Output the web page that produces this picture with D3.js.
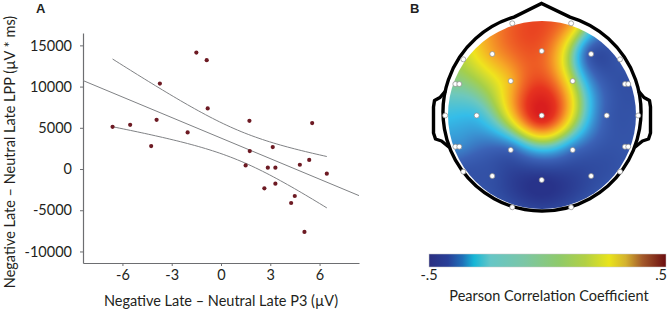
<!DOCTYPE html>
<html><head><meta charset="utf-8">
<script src="https://cdn.jsdelivr.net/npm/d3@7"></script>
<style>
html,body{margin:0;padding:0;background:#fff;}
svg{display:block;font-family:Lato,'Open Sans',sans-serif;}
</style></head><body>
<svg id="chart" width="670" height="315"></svg>
<script>
// ---------- Panel A data ----------
const p3Diff  = [-6.6,-5.53,-3.92,-4.25,-3.72,-2.03,-1.5,-0.87,-0.81,1.73,1.75,3.15,5.55,5.37,1.5,2.85,3.31,4.8,6.44,2.64,3.31,4.49,4.27,5.08];
const lppDiff = [5120,5360,5970,2780,10370,4440,14120,13200,7350,5850,2180,2660,5570,1100,440,160,160,520,-570,-2340,-1780,-3270,-4120,-7630];
const xTicks = [-6,-3,0,3,6];
const yTicks = [-10000,-5000,0,5000,10000,15000];
const xDomain = [-8.4, 8.4];
const yDomain = [-11400, 16500];
const tCrit = 2.074; // 95% CI, df = 22

// ---------- Panel B data ----------
const electrodeNames = ["Fp1","Fp2","F7","F3","Fz","F4","F8","FT9","FT7","FC3","FC4","FT8","FT10","T7","C3","Cz","C4","T8","TP9","TP7","CP3","CP4","TP8","TP10","P7","P3","Pz","P4","P8","O1","O2"];
const electrodeX = [-0.305,0.305,-0.812,-0.512,0,0.512,0.812,-0.895,-0.854,-0.321,0.321,0.863,0.897,-1.0,-0.674,0,0.674,1.0,-0.895,-0.854,-0.321,0.321,0.863,0.897,-0.812,-0.512,0,0.512,0.812,-0.305,0.305];
const electrodeY = [-0.955,-0.955,-0.582,-0.637,-0.668,-0.637,-0.582,-0.326,-0.326,-0.357,-0.357,-0.326,-0.326,0,0,0,0,0,0.323,0.323,0.357,0.357,0.323,0.323,0.582,0.627,0.668,0.627,0.582,0.951,0.951];
const electrodeR = [0.32,0.2,0.03,0.2,0.32,-0.38,-0.38,-0.06,-0.06,0.18,0.02,-0.4,-0.4,-0.17,-0.17,0.5,-0.35,-0.38,-0.26,-0.26,-0.33,-0.3,-0.38,-0.38,-0.38,-0.4,-0.5,-0.42,-0.38,-0.4,-0.4];
const mapStops  = [-0.5,-0.42,-0.33,-0.25,-0.18,-0.1,0,0.1,0.2,0.3,0.4,0.5];
const mapColors = ["#28338a","#2f4a9f","#3b62b6","#3a8fd0","#34bde9","#6ec8bc","#a5cf4a","#efe41e","#f6a826","#f06926","#e6331f","#d91e1e"];
const barStops  = [0,0.08,0.14,0.19,0.26,0.4,0.55,0.66,0.76,0.83,0.9,1];
const barColors = ["#2b2f80","#283f98","#1f6fb8","#17b6d6","#66c6c6","#7bc6a6","#8fca6a","#b2d044","#e9e41b","#d4b22e","#a45a2a","#6b0d10"];
const barTickLabels = ["-.5", ".5"];

const textColor = "#231f20";
const svg = d3.select("#chart");

// ================= Panel A =================
const x = d3.scaleLinear().domain(xDomain).range([83, 359]);
const y = d3.scaleLinear().domain(yDomain).range([263, 33]);
const axisColor = "#6d6e71";
const fs = 14.5;

const gx = svg.append("g").attr("transform","translate(0,263)")
  .call(d3.axisBottom(x).tickValues(xTicks).tickSize(3).tickSizeOuter(0).tickPadding(4).tickFormat(d=>String(d)));
const gy = svg.append("g").attr("transform","translate(83,0)")
  .call(d3.axisLeft(y).tickValues(yTicks).tickSize(3).tickSizeOuter(0).tickPadding(8).tickFormat(d=>String(d)));
[gx,gy].forEach(g=>{
  g.select(".domain").attr("stroke",axisColor).attr("stroke-width",1.2);
  g.selectAll(".tick line").attr("stroke",axisColor);
  g.selectAll(".tick text").attr("fill",textColor).style("font-size",fs+"px").style("font-family","Lato,'Open Sans',sans-serif");
});

// regression + CI
const n = p3Diff.length;
const mx = d3.mean(p3Diff), my = d3.mean(lppDiff);
let sxx=0, sxy=0;
for (let i=0;i<n;i++){ sxx += (p3Diff[i]-mx)**2; sxy += (p3Diff[i]-mx)*(lppDiff[i]-my); }
const slope = sxy/sxx, intercept = my - slope*mx;
let sse=0;
for (let i=0;i<n;i++){ sse += (lppDiff[i]-(intercept+slope*p3Diff[i]))**2; }
const se = Math.sqrt(sse/(n-2));
const fit = v => intercept + slope*v;
const hw = v => tCrit*se*Math.sqrt(1/n + (v-mx)**2/sxx);

const lineGen = d3.line().x(d=>x(d[0])).y(d=>y(d[1]));
const lineColor = "#808285";
svg.append("path").attr("d", lineGen(xDomain.map(v=>[v,fit(v)])))
  .attr("fill","none").attr("stroke",lineColor).attr("stroke-width",1);
const xs = d3.range(0,61).map(i=> d3.min(p3Diff) + i*(d3.max(p3Diff)-d3.min(p3Diff))/60);
svg.append("path").attr("d", lineGen(xs.map(v=>[v,fit(v)+hw(v)])))
  .attr("fill","none").attr("stroke",lineColor).attr("stroke-width",1);
svg.append("path").attr("d", lineGen(xs.map(v=>[v,fit(v)-hw(v)])))
  .attr("fill","none").attr("stroke",lineColor).attr("stroke-width",1);

svg.append("g").selectAll("circle").data(p3Diff.map((v,i)=>[v,lppDiff[i]])).join("circle")
  .attr("cx",d=>x(d[0])).attr("cy",d=>y(d[1])).attr("r",2.1).attr("fill","#6d1a23");

svg.append("text").attr("transform","translate(15,152) rotate(-90)").attr("text-anchor","middle")
  .attr("fill",textColor).style("font-size",fs+"px").text("Negative Late \u2013 Neutral Late LPP (\u00b5V * ms)");
svg.append("text").attr("x",221).attr("y",306).attr("text-anchor","middle")
  .attr("fill",textColor).style("font-size",fs+"px").text("Negative Late \u2013 Neutral Late P3 (\u00b5V)");
svg.append("text").attr("x",36).attr("y",13).attr("fill",textColor)
  .style("font-family","'Liberation Sans',Arial,sans-serif").style("font-weight","bold").style("font-size","13px").text("A");

// ================= Panel B =================
const ecx = 541.7, ecy = 115.5, eR = 96.5;
const ex = d3.scaleLinear().domain([-1,1]).range([ecx-eR, ecx+eR]);
const ey = d3.scaleLinear().domain([-1,1]).range([ecy-eR, ecy+eR]);

// biharmonic spline interpolation (v4)
const m = electrodeX.length;
const g = r => r>0 ? r*r*(Math.log(r)-1) : 0;
const A = [];
for (let i=0;i<m;i++){ A.push([]); for (let j=0;j<m;j++){ A[i].push(g(Math.hypot(electrodeX[i]-electrodeX[j], electrodeY[i]-electrodeY[j]))); } A[i].push(electrodeR[i]); }
for (let c=0;c<m;c++){
  let p=c; for (let r=c+1;r<m;r++) if (Math.abs(A[r][c])>Math.abs(A[p][c])) p=r;
  [A[c],A[p]]=[A[p],A[c]];
  for (let r=0;r<m;r++){ if (r===c) continue; const f=A[r][c]/A[c][c]; for (let k=c;k<=m;k++) A[r][k]-=f*A[c][k]; }
}
const w = A.map((row,i)=>row[m]/row[i]);
const interp = (u,v)=>{ let s=0; for (let k=0;k<m;k++) s+=w[k]*g(Math.hypot(u-electrodeX[k], v-electrodeY[k])); return s; };

const mapColor = d3.scaleLinear().domain(mapStops).range(mapColors).clamp(true);
const clipCx = 542, clipCy = 115, clipR = 94;
const cx0 = clipCx-clipR-1, cy0 = clipCy-clipR-1, W = 2*clipR+2;
const canvas = document.createElement("canvas");
canvas.width = W; canvas.height = W;
const ctx = canvas.getContext("2d");
const img = ctx.createImageData(W,W);
for (let j=0;j<W;j++){
  for (let i=0;i<W;i++){
    const px = cx0+i+0.5, py = cy0+j+0.5;
    const val = Math.max(-0.5, Math.min(0.5, interp(ex.invert(px), ey.invert(py))));
    const c = d3.rgb(mapColor(val));
    const o = (j*W+i)*4;
    img.data[o]=c.r; img.data[o+1]=c.g; img.data[o+2]=c.b; img.data[o+3]=255;
  }
}
ctx.putImageData(img,0,0);
const defs = svg.append("defs");
defs.append("clipPath").attr("id","headClip").append("circle").attr("cx",clipCx).attr("cy",clipCy).attr("r",clipR);
svg.append("image").attr("href",canvas.toDataURL()).attr("x",cx0).attr("y",cy0).attr("width",W).attr("height",W)
  .attr("clip-path","url(#headClip)");

// head outline
const hcx = 542, hcy = 112, hR = 99;
const noseHalf = Math.asin(28/hR);
const hp = d3.path();
const a0 = -Math.PI/2 + noseHalf, a1 = -Math.PI/2 - noseHalf + 2*Math.PI;
hp.moveTo(hcx + hR*Math.cos(a0), hcy + hR*Math.sin(a0));
hp.arc(hcx,hcy,hR,a0,a1,false);
hp.lineTo(541.5, 3.5);
hp.closePath();
svg.append("path").attr("d",hp.toString()).attr("fill","none").attr("stroke","#000").attr("stroke-width",3.4).attr("stroke-linejoin","miter");
const earL = [[445.5,91],[440,97.5],[434.5,100.5],[433.5,107],[433.5,133],[435.5,139],[441.5,141],[449.5,147.5]];
const earLine = d3.line();
svg.append("path").attr("d",earLine(earL)).attr("fill","none").attr("stroke","#000").attr("stroke-width",3.4).attr("stroke-linejoin","round");
svg.append("path").attr("d",earLine(earL.map(p=>[2*hcx-p[0],p[1]]))).attr("fill","none").attr("stroke","#000").attr("stroke-width",3.4).attr("stroke-linejoin","round");

// electrodes
svg.append("g").selectAll("circle").data(electrodeNames).join("circle")
  .attr("cx",(d,i)=>ex(electrodeX[i])).attr("cy",(d,i)=>ey(electrodeY[i])).attr("r",2.5)
  .attr("fill","#fff").attr("stroke","#8a8a8a").attr("stroke-width",0.7);

svg.append("text").attr("x",410).attr("y",13).attr("fill",textColor)
  .style("font-family","'Liberation Sans',Arial,sans-serif").style("font-weight","bold").style("font-size","13px").text("B");

// colorbar
const grad = defs.append("linearGradient").attr("id","cbar").attr("x1","0%").attr("x2","100%");
barStops.forEach((s,i)=>grad.append("stop").attr("offset",(s*100)+"%").attr("stop-color",barColors[i]));
const barX = d3.scaleLinear().domain([-0.5,0.5]).range([429,666]);
svg.append("rect").attr("x",barX(-0.5)).attr("y",254).attr("width",barX(0.5)-barX(-0.5)).attr("height",13)
  .attr("fill","url(#cbar)").attr("stroke","#c8c8c8").attr("stroke-width",0.5);
svg.append("text").attr("x",barX(-0.5)).attr("y",280).attr("text-anchor","middle").attr("fill",textColor)
  .style("font-size",fs+"px").text(barTickLabels[0]);
svg.append("text").attr("x",barX(0.5)+1).attr("y",280).attr("text-anchor","end").attr("fill",textColor)
  .style("font-size",fs+"px").text(barTickLabels[1]);
svg.append("text").attr("x",549).attr("y",301).attr("text-anchor","middle").attr("fill",textColor)
  .style("font-size",fs+"px").text("Pearson Correlation Coefficient");
</script>
</body></html>
